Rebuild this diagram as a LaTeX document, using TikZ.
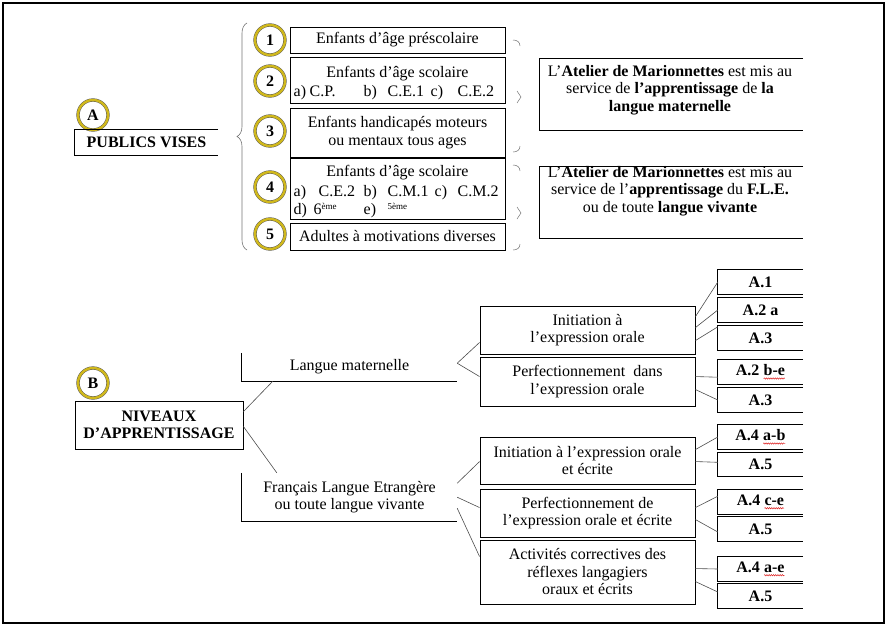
\documentclass[tikz,border=0pt]{standalone}
\usepackage{fontspec}
\setmainfont{Liberation Serif}
\usetikzlibrary{calc,decorations.pathreplacing,decorations.pathmorphing}

\definecolor{ringgold}{RGB}{208,184,28}
\newcommand\fsz{\fontsize{16}{17.5}\selectfont}
% place a piece of text at a horizontal offset from a common origin
\newcommand\tokat[2]{\makebox[0pt][l]{\hspace*{#1pt}#2}}
% small raised ordinal suffix
\newcommand\sfx[1]{\raisebox{4.5pt}{\fontsize{9}{9}\selectfont #1}}
% spell-check style red wavy underline
\newcommand\squig[1]{\tikz[baseline=(sq.base)]{\node[inner sep=0pt,outer sep=0pt,minimum width=0pt,
    minimum height=0pt,draw=none,font=\fsz\bfseries] (sq) {#1};
  \draw[red!85!black,line width=0.4pt,decorate,decoration={snake,amplitude=0.7pt,segment length=2.2pt}]
  ([yshift=-2.8pt]sq.base west) -- ([yshift=-2.8pt]sq.base east);}}

\begin{document}
\begin{tikzpicture}[x=1pt,y=-1pt,
  box/.style={draw,line width=0.9pt,inner sep=0pt,align=center,font=\fsz},
  openbox/.style={inner sep=0pt,align=center,font=\fsz},
  lbl/.style={inner sep=0pt,align=center,font=\fsz},
  row/.style={inner sep=0pt,anchor=base west,font=\fsz},
  ring/.style={circle,draw=black!65,line width=0.45pt,double=ringgold,double distance=2.4pt,
    fill=white,minimum size=30pt,inner sep=0pt,font=\fsz\bfseries},
  frame/.style={line width=0.9pt},
  link/.style={draw=black!70,line width=0.6pt},
  brc/.style={draw=black!55,line width=0.5pt},
  small/.style={openbox,minimum width=85pt,minimum height=24pt,font=\fsz\bfseries},
  mid/.style={box,minimum width=215pt},
]
\useasboundingbox (0,0) rectangle (888,627);
\draw[line width=1.2pt] (3,3) rectangle (884,623);

% ---------------- A : target publics ----------------
\node[openbox,minimum width=143pt,minimum height=25pt,font=\fsz\bfseries] (pub) at (146.5,142.5) {PUBLICS VISES};
\node[ring] (cA) at (93,115) {A};

\draw[black!55,line width=0.6pt,decorate,decoration={brace,amplitude=10pt}] (247,250) -- (247,23);

\node[box,minimum width=215pt,minimum height=26pt] (b1) at (397.5,40) {Enfants d’âge préscolaire};
\node[box,minimum width=215pt,minimum height=46pt] (b2) at (397.5,80) {};
\node[box,minimum width=215pt,minimum height=49pt] (b3) at (397.5,132.5) {Enfants handicapés moteurs\\ou mentaux tous ages};
\node[box,minimum width=215pt,minimum height=61pt] (b4) at (397.5,188.5) {};
\node[box,minimum width=215pt,minimum height=27pt] (b5) at (397.5,236.5) {Adultes à motivations diverses};

\node[lbl,anchor=base] (b2a) at (397.5,77) {Enfants d’âge scolaire};
\node[row] (b2b) at (293,96) {\tokat{0}{a)}\tokat{16}{C.P.}\tokat{70}{b)}\tokat{94}{C.E.1}\tokat{137}{c)}\tokat{164}{C.E.2}};
\node[lbl,anchor=base] (b4a) at (397.5,176) {Enfants d’âge scolaire};
\node[row] (b4b) at (293,196) {\tokat{0}{a)}\tokat{25}{C.E.2}\tokat{70}{b)}\tokat{94}{C.M.1}\tokat{141}{c)}\tokat{164}{C.M.2}};
\node[row] (b4c) at (293,214) {\tokat{0}{d)}\tokat{20}{6\sfx{ème}}\tokat{70}{e)}\tokat{94}{\sfx{5ème}}};

\node[ring] (c1) at (270,40) {1};
\node[ring] (c2) at (270,81) {2};
\node[ring] (c3) at (270,131) {3};
\node[ring] (c4) at (270,187) {4};
\node[ring] (c5) at (270,234) {5};

% small braces on the right of the list
\draw[brc] (513,40) .. controls (517,40) and (520,42) .. (520,46);
\draw[brc] (517,91) -- (521,97) -- (517,103);
\draw[brc] (520,146) .. controls (520,150) and (517,152) .. (513,152);
\draw[brc] (513,165) .. controls (517,165) and (520,167) .. (520,171);
\draw[brc] (517,207) -- (521,213) -- (517,219);
\draw[brc] (520,244) .. controls (520,248) and (517,250) .. (513,250);

\node[openbox,minimum width=263pt,minimum height=71pt] (rb1) at (671.5,94.5) {};
\node[lbl] (rb1t) at (670,90) {L’\textbf{Atelier de Marionnettes} est mis au\\service de \textbf{l’apprentissage} de \textbf{la}\\\textbf{langue maternelle}};
\node[openbox,minimum width=263pt,minimum height=71pt] (rb2) at (671.5,202.5) {};
\node[lbl] (rb2t) at (670,191) {L’\textbf{Atelier de Marionnettes} est mis au\\service de l’\textbf{apprentissage} du \textbf{F.L.E.}\\ou de toute \textbf{langue vivante}};

% ---------------- B : learning levels ----------------
\node[box,minimum width=168pt,minimum height=48pt,font=\fsz\bfseries] (nv) at (159,425) {NIVEAUX\\D’APPRENTISSAGE};
\node[ring] (cB) at (93,383) {B};

\node[openbox,minimum width=215pt,minimum height=28pt] (lm) at (349.5,367) {Langue maternelle};
\node[openbox,minimum width=215pt,minimum height=48pt] (fr) at (349.5,497) {Français Langue Etrangère\\ou toute langue vivante};
\draw[frame] (lm.north west) -- (lm.south west) -- (lm.south east);
\draw[frame] (fr.north west) -- (fr.south west) -- (fr.south east);

\draw[link] ($(nv.north east)+(0,11)$) -- ($(lm.south west)+(31,0)$);
\draw[link] ($(nv.north east)+(0,26)$) -- ($(fr.north west)+(35,0)$);

\node[mid,minimum height=48pt] (i1) at (587.5,330) {Initiation à\\l’expression orale};
\node[mid,minimum height=49pt] (p1) at (587.5,381.5) {Perfectionnement\ \ dans\\l’expression orale};
\node[mid,minimum height=47pt] (i2) at (587.5,460.5) {Initiation à l’expression orale\\et écrite};
\node[mid,minimum height=48pt] (p2) at (587.5,513) {Perfectionnement de\\l’expression orale et écrite};
\node[mid,minimum height=64pt] (ac) at (587.5,572) {Activités correctives des\\réflexes langagiers\\oraux et écrits};

\coordinate (lmv) at ($(lm.south east)+(0,-18)$);
\draw[link] (lmv) -- ($(i1.south west)+(0,-12)$);
\draw[link] (lmv) -- ($(p1.north west)+(0,20)$);
\draw[link] ($(fr.south east)+(0,-38)$) -- ($(i2.north west)+(0,25)$);
\draw[link] ($(fr.south east)+(0,-24)$) -- ($(p2.north west)+(0,19)$);
\draw[link] ($(fr.south east)+(0,-13)$) -- ($(ac.north west)+(0,17)$);

\node[small] (r1) at (760.5,282) {A.1};
\node[small] (r2) at (760.5,310) {A.2 a};
\node[small] (r3) at (760.5,338) {A.3};
\node[small] (r4) at (760.5,372) {A.2 \squig{b-e}};
\node[small] (r5) at (760.5,400) {A.3};
\node[small] (r6) at (760.5,437) {A.4 \squig{a-b}};
\node[small] (r7) at (760.5,464.5) {A.5};
\node[small] (r8) at (760.5,502) {A.4 \squig{c-e}};
\node[small] (r9) at (760.5,529) {A.5};
\node[small] (r10) at (760.5,569) {A.4 \squig{a-e}};
\node[small] (r11) at (760.5,596) {A.5};

\foreach \n in {pub,rb1,rb2,r1,r2,r3,r4,r5,r6,r7,r8,r9,r10,r11}
  \draw[frame] (\n.north east) -| (\n.south west) -- (\n.south east);

\draw[link] ($(i1.north east)+(0,11)$) -- (r1.west);
\draw[link] ($(i1.north east)+(0,22)$) -- (r2.west);
\draw[link] ($(i1.north east)+(0,35)$) -- ($(r3.north west)+(0,1)$);
\draw[link] ($(p1.north east)+(0,20)$) -- ($(r4.south west)+(0,-7)$);
\draw[link] ($(p1.north east)+(0,33)$) -- (r5.west);
\draw[link] ($(i2.north east)+(0,13)$) -- (r6.west);
\draw[link] ($(i2.north east)+(0,25)$) -- ($(r7.north west)+(0,10)$);
\draw[link] ($(p2.north east)+(0,19)$) -- ($(r8.south west)+(0,-18)$);
\draw[link] ($(p2.north east)+(0,31)$) -- ($(r9.west)+(0,3)$);
\draw[link] ($(ac.north east)+(0,29)$) -- (r10.west);
\draw[link] ($(ac.north east)+(0,42)$) -- ($(r11.west)+(0,-4)$);
\end{tikzpicture}
\end{document}
